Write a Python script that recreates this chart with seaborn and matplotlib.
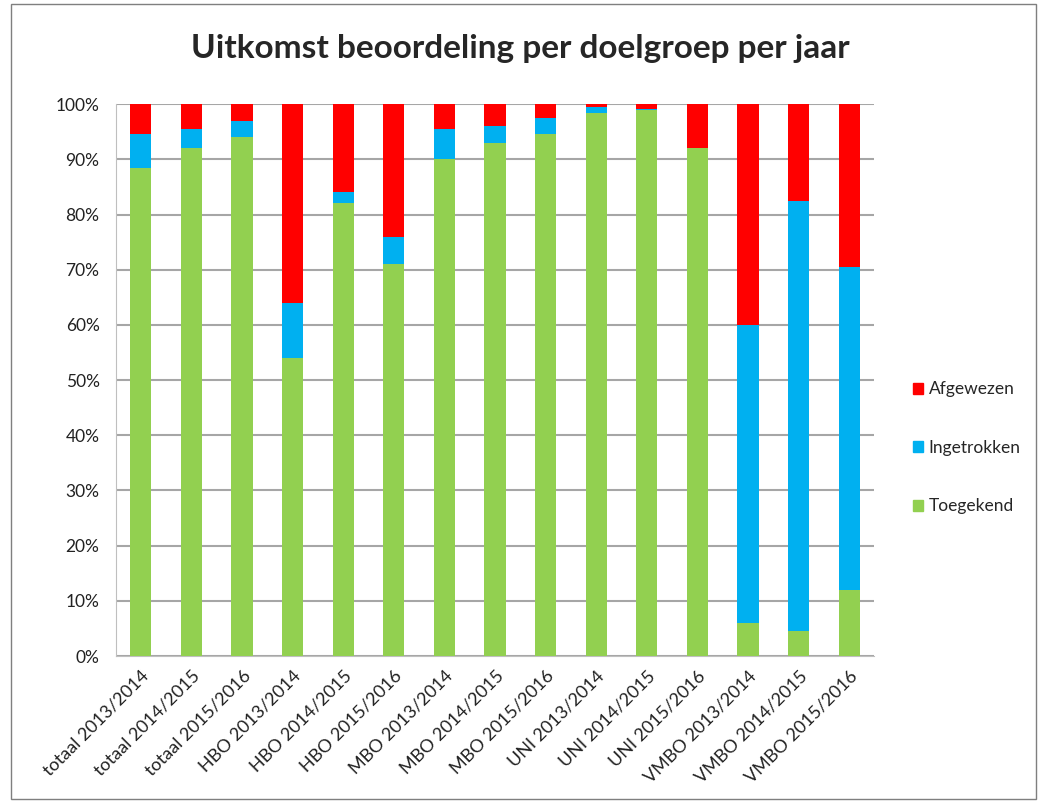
# Uitkomst beoordeling per doelgroep per jaar - 100% stacked columns
import pandas as pd
import numpy as np
import matplotlib
matplotlib.use("Agg")
import matplotlib.pyplot as plt
from matplotlib.patches import Patch, Rectangle
from matplotlib.ticker import PercentFormatter
import seaborn as sns

# Data (percentages)
categories = ["totaal 2013/2014", "totaal 2014/2015", "totaal 2015/2016",
              "HBO 2013/2014", "HBO 2014/2015", "HBO 2015/2016",
              "MBO 2013/2014", "MBO 2014/2015", "MBO 2015/2016",
              "UNI 2013/2014", "UNI 2014/2015", "UNI 2015/2016",
              "VMBO 2013/2014", "VMBO 2014/2015", "VMBO 2015/2016"]
toegekend = [88.5, 92, 94, 54, 82, 71, 90, 93, 94.5, 98.3, 99, 92, 6, 4.5, 12]
ingetrokken = [6, 3.5, 3, 10, 2, 5, 5.5, 3, 3, 1.2, 0.2, 0, 54, 78, 58.5]
afgewezen = [5.5, 4.5, 3, 36, 16, 24, 4.5, 4, 2.5, 0.5, 0.8, 8, 40, 17.5, 29.5]

series = ["Afgewezen", "Ingetrokken", "Toegekend"]
colors = {"Afgewezen": "#FF0000", "Ingetrokken": "#00B0F0", "Toegekend": "#92D050"}

df = pd.DataFrame({"cat": categories, "Toegekend": toegekend,
                   "Ingetrokken": ingetrokken, "Afgewezen": afgewezen})
# cumulative tops for overlay drawing
df["top_green"] = df["Toegekend"]
df["top_blue"] = df["Toegekend"] + df["Ingetrokken"]
df["top_red"] = df["top_blue"] + df["Afgewezen"]

sns.set_style("white")
plt.rcParams["font.family"] = ["Lato", "DejaVu Sans"]

fig = plt.figure(figsize=(10.41, 8.07), dpi=100)
ax = fig.add_axes([0.111, 0.187, 0.729, 0.684])

# draw from the top layer down so each lower segment covers the one above
for col, name in [("top_red", "Afgewezen"), ("top_blue", "Ingetrokken"), ("top_green", "Toegekend")]:
    sns.barplot(data=df, x="cat", y=col, color=colors[name], width=0.42,
                edgecolor="none", saturation=1, ax=ax, zorder=3)

ax.set_ylim(0, 100)
ax.set_yticks(np.arange(0, 101, 10))
ax.yaxis.set_major_formatter(PercentFormatter(decimals=0))
ax.grid(axis="y", color="#A6A6A6", linewidth=1.5, zorder=0)
ax.set_xlabel("")
ax.set_ylabel("")
for s in ["top", "right"]:
    ax.spines[s].set_visible(False)
ax.spines["left"].set_color("#BFBFBF")
ax.spines["bottom"].set_color("#BFBFBF")
ax.tick_params(axis="y", labelsize=12.5, colors="#222222", pad=8)
ax.tick_params(axis="x", labelsize=13, colors="#222222", length=5, direction="out")
ax.set_xticks(range(len(categories)))
ax.set_xticklabels(categories, rotation=45, ha="right", rotation_mode="anchor")

fig.suptitle("Uitkomst beoordeling per doelgroep per jaar", fontsize=24,
             fontweight="bold", y=0.958)

handles = [Patch(color=colors[s], label=s) for s in series]
fig.legend(handles=handles, loc="center left", bbox_to_anchor=(0.862, 0.445),
           frameon=False, fontsize=12.5, handlelength=0.6, handleheight=0.6,
           handletextpad=0.3, labelspacing=2.45)

# thin border around the chart area
fig.patches.append(Rectangle((0.011, 0.01), 0.984, 0.985, transform=fig.transFigure,
                             fill=False, edgecolor="#7F7F7F", linewidth=1))

fig.savefig("out.png", dpi=100, facecolor="white")
